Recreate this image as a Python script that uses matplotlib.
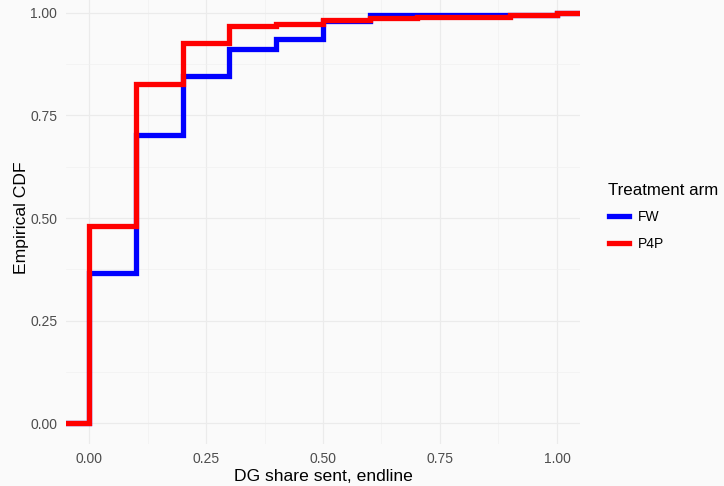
import numpy as np
import matplotlib.pyplot as plt
from matplotlib.lines import Line2D

# ECDF levels (step after each share value)
shares = [0.0, 0.1, 0.2, 0.3, 0.4, 0.5, 0.6, 0.7, 0.8, 0.9, 1.0]
fw_cdf = [0.367, 0.702, 0.846, 0.911, 0.937, 0.980, 0.995, 0.995, 0.995, 0.995, 1.0]
p4p_cdf = [0.481, 0.828, 0.928, 0.968, 0.972, 0.983, 0.987, 0.990, 0.991, 0.994, 1.0]

arms = ["FW", "P4P"]
colors = {"FW": "#0000FF", "P4P": "#FF0000"}

plt.rcParams['font.family'] = ['Liberation Sans', 'DejaVu Sans']

bg = "#FAFAFA"
fig = plt.figure(figsize=(7.24, 4.86), dpi=100, facecolor=bg)
W, H = 724, 486
left, right, top, bottom = 65.6, 580.4, -7.5, 443.5
ax = fig.add_axes([left / W, (H - bottom) / H, (right - left) / W, (bottom - top) / H])
ax.set_facecolor(bg)

xmin, xmax = -0.05, 1.05
for arm, cdf in zip(arms, [fw_cdf, p4p_cdf]):
    xs = [xmin] + shares + [xmax]
    ys = [0.0] + cdf + [cdf[-1]]
    ax.step(xs, ys, where="post", color=colors[arm], lw=3.8,
            solid_joinstyle="miter", zorder=3)

ax.set_xlim(xmin, xmax)
ax.set_ylim(-0.05, 1.05)

major = [0, 0.25, 0.5, 0.75, 1.0]
minor = [0.125, 0.375, 0.625, 0.875]
ax.set_xticks(major)
ax.set_yticks(major)
ax.set_xticks(minor, minor=True)
ax.set_yticks(minor, minor=True)
ax.set_xticklabels(["%.2f" % v for v in major])
ax.set_yticklabels(["%.2f" % v for v in major])
ax.grid(which="major", color="#EBEBEB", lw=0.9)
ax.grid(which="minor", color="#F0F0F0", lw=0.5)
ax.set_axisbelow(True)
ax.tick_params(which="both", length=0, labelsize=10, labelcolor="#4D4D4D", pad=6)
for s in ax.spines.values():
    s.set_visible(False)

ax.set_xlabel("DG share sent, endline", fontsize=12.6, color="black", labelpad=2)
ax.set_ylabel("Empirical CDF", fontsize=12.6, color="black", labelpad=1)

handles = [Line2D([], [], color=colors[a], lw=3.8) for a in arms]
leg = ax.legend(handles, arms, title="Treatment arm", loc="upper left",
                bbox_to_anchor=(596 / W, 1 - 170 / H), bbox_transform=fig.transFigure,
                frameon=False, fontsize=10, title_fontsize=12.2,
                handlelength=1.5, handletextpad=0.65, labelspacing=0.9,
                alignment="left")

fig.savefig("out.png", dpi=100, facecolor=bg)
